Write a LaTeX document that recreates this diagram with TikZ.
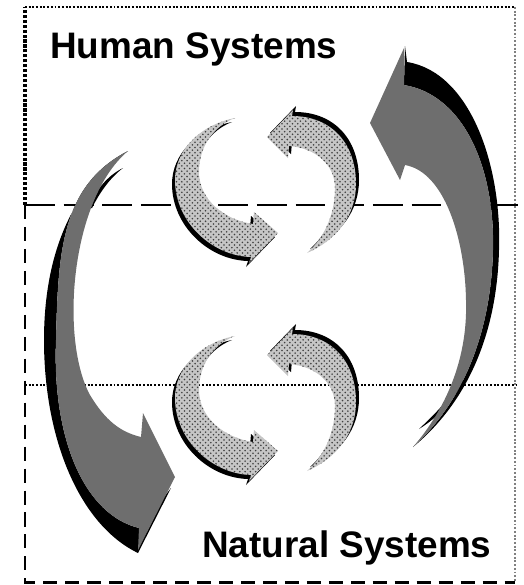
\documentclass[tikz,border=0pt]{standalone}
\usepackage{fontspec}
\setmainfont{Liberation Sans}
\usetikzlibrary{positioning, patterns}

\begin{document}
\begin{tikzpicture}[
    x=0.02cm, y=-0.02cm,
    title/.style={font=\fontsize{21}{25}\selectfont\bfseries, inner sep=0pt, anchor=base west},
    bigarrow/.style={fill=black!57},
    edgeshadow/.style={fill=black},
    loopfill/.style={fill=gray!45, preaction={fill=black, transform canvas={shift={#1}}},
      postaction={pattern=crosshatch dots, pattern color=gray!50!black}},
    longdash/.style={line width=1.6pt, dash pattern=on 17pt off 5pt},
    shortdash/.style={line width=1.7pt, dash pattern=on 8pt off 4.5pt},
    fine/.style={line width=1.1pt, densely dotted}
  ]
  \useasboundingbox (0,0) rectangle (524,585);

  % frames of the two systems
  \draw[line width=1.8pt, densely dotted] (25,205) -- (25,7);
  \draw[fine] (25,7) -- (515,7);
  \draw[fine] (25,385) -- (517,385);
  \draw[fine, gray] (515,7) -- (515,582);
  \draw[longdash] (25,205) -- (518,205);
  \draw[shortdash] (25,205) -- (25,582) -- (515,582);

  % big arrow down the left side
  \fill[edgeshadow] (128,151) .. controls (75,185) and (44,250) .. (44,340)
    .. controls (44,440) and (80,525) .. (138,553) -- (171,488) -- (150,515) -- (139,528)
    .. controls (85,515) and (52,440) .. (56,340) .. controls (58,250) and (62,185) .. (128,151) -- cycle;
  \fill[edgeshadow] (123,168) .. controls (110,178) and (100,192) .. (92,208) -- (88,208)
    .. controls (96,190) and (107,176) .. (123,168) -- cycle;
  \fill[bigarrow] (128,151) .. controls (70,200) and (60,340) .. (90,395)
    .. controls (105,420) and (120,432) .. (141,437) -- (143,413) -- (175,477) -- (138,550) -- (139,528)
    .. controls (85,515) and (52,440) .. (56,340) .. controls (58,250) and (62,185) .. (128,151) -- cycle;

  % big arrow up the right side
  \fill[edgeshadow] (405,46) -- (407,62) .. controls (470,72) and (502,165) .. (499,250)
    .. controls (497,330) and (470,400) .. (413,447) .. controls (465,400) and (491,330) .. (493,250)
    .. controls (495,170) and (465,95) .. (404,85) -- cycle;
  \fill[edgeshadow] (419,429) .. controls (436,413) and (451,398) .. (461,378) -- (463,382)
    .. controls (452,402) and (437,418) .. (419,429) -- cycle;
  \fill[bigarrow] (413,447) .. controls (445,410) and (468,360) .. (466,300)
    .. controls (465,240) and (445,172) .. (405,165) -- (400,180) -- (370,123) -- (404,48) -- (404,85)
    .. controls (465,95) and (495,170) .. (493,250) .. controls (491,330) and (465,400) .. (413,447) -- cycle;

  % the two small cycles
  \foreach \dy in {0,218} {
    \begin{scope}[shift={(0,\dy)}]
      \path[loopfill={(-3,4)}] (235,118) .. controls (200,125) and (175,150) .. (175,180)
        .. controls (175,222) and (212,256) .. (251,257) -- (249,263) -- (278,233) -- (254,212) -- (253,224)
        .. controls (225,220) and (199,200) .. (199,172) .. controls (199,146) and (214,126) .. (235,118) -- cycle;
      \path[loopfill={(3,-4)}] (307,253) .. controls (337,240) and (356,215) .. (356,184)
        .. controls (356,142) and (330,116) .. (292,116) -- (293,110) -- (267,137) -- (288,158) -- (289,146)
        .. controls (316,148) and (335,165) .. (335,188) .. controls (335,215) and (324,238) .. (307,253) -- cycle;
    \end{scope}
  }

  \node[title] (human) at (50,58) {Human Systems};
  \node[title] (natural) at (202,557) {Natural Systems};
\end{tikzpicture}
\end{document}
